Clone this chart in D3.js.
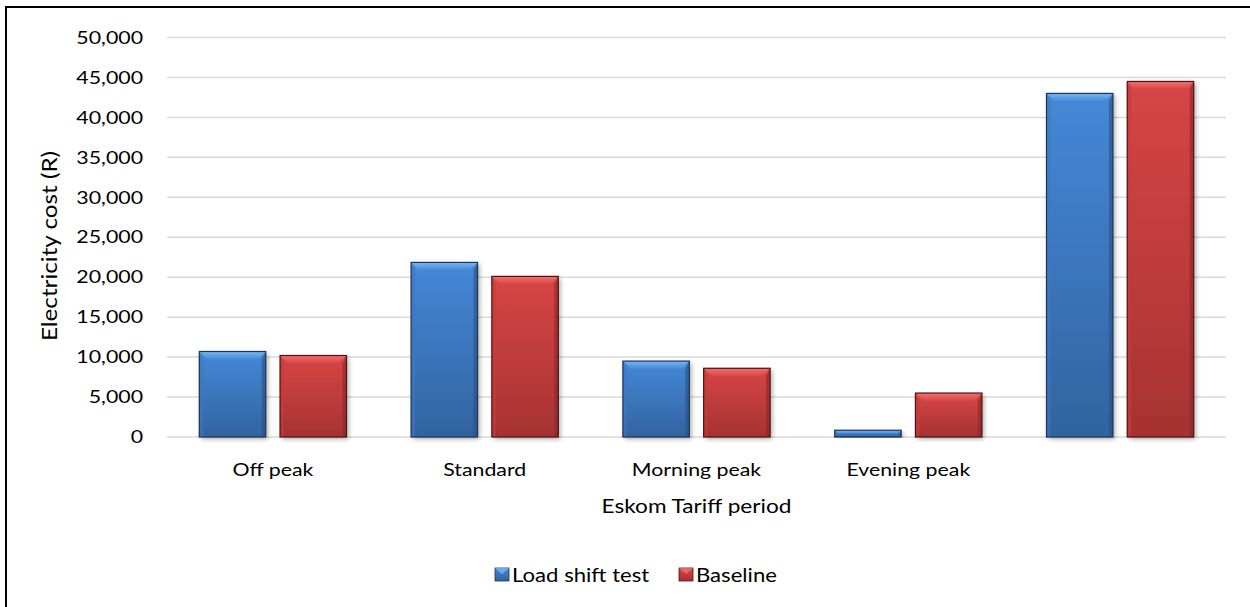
<!DOCTYPE html>
<html>
<head>
<meta charset="utf-8">
<script src="https://cdn.jsdelivr.net/npm/d3@7"></script>
<style>
  html, body { margin: 0; padding: 0; background: #fff; }
  svg text { font-family: Lato, "Open Sans", sans-serif; fill: #000; }
</style>
</head>
<body>
<svg id="chart" width="1250" height="607"></svg>
<script>
// ---- data ----
const categories = ["Off peak", "Standard", "Morning peak", "Evening peak", ""];
const seriesNames = ["Load shift test", "Baseline"];
const loadShiftTest = [10700, 21850, 9500, 850, 43000];
const baseline = [10200, 20100, 8600, 5500, 44500];
const yTicks = [0, 5000, 10000, 15000, 20000, 25000, 30000, 35000, 40000, 45000, 50000];
const yTitle = "Electricity cost (R)";
const xTitle = "Eskom Tariff period";

const svg = d3.select("#chart");

// text helper: horizontally widened glyphs (reference text is wide)
function label(parent, x, y, str, size, sx, anchor, rot) {
  return parent.append("text")
    .attr("transform", `translate(${x},${y})${rot ? ` rotate(${rot})` : ""} scale(${sx},1)`)
    .attr("font-size", size).attr("text-anchor", anchor || "start").text(str);
}

// frame
svg.append("rect").attr("x", 6).attr("y", 7).attr("width", 1260).attr("height", 620)
  .attr("fill", "none").attr("stroke", "#000").attr("stroke-width", 2);

const plot = { left: 167, right: 1226, top: 37.5, bottom: 437 };

const y = d3.scaleLinear().domain([0, 50000]).range([plot.bottom, plot.top]);
const x0 = d3.scaleBand().domain(categories.map((c, i) => i))
  .range([plot.left, plot.right]).paddingInner(0.305).paddingOuter(0.1525);
const x1 = d3.scaleBand().domain(seriesNames).range([0, x0.bandwidth()])
  .paddingInner(0.177).paddingOuter(0);

const defs = svg.append("defs");
const palettes = {
  "Load shift test": { top: "#4588d8", bottom: "#3263a0", stroke: "#1c3558", bevel: "#79b6f4", side: "#3e78bf", shadowSide: "#2a5080" },
  "Baseline": { top: "#d84545", bottom: "#a63232", stroke: "#4d1414", bevel: "#f27070", side: "#c43c3c", shadowSide: "#8a2626" }
};
Object.entries(palettes).forEach(([name, p], i) => {
  const g = defs.append("linearGradient").attr("id", "grad" + i)
    .attr("x1", 0).attr("y1", 0).attr("x2", 0).attr("y2", 1);
  g.append("stop").attr("offset", "0%").attr("stop-color", p.top);
  g.append("stop").attr("offset", "100%").attr("stop-color", p.bottom);
  const b = defs.append("linearGradient").attr("id", "bev" + i)
    .attr("x1", 0).attr("y1", 0).attr("x2", 0).attr("y2", 1);
  b.append("stop").attr("offset", "0%").attr("stop-color", p.bevel);
  b.append("stop").attr("offset", "100%").attr("stop-color", p.top);
});
const sh = defs.append("filter").attr("id", "shadow").attr("x", "-20%").attr("y", "-5%").attr("width", "150%").attr("height", "115%");
sh.append("feGaussianBlur").attr("in", "SourceAlpha").attr("stdDeviation", 2.5).attr("result", "blur");
sh.append("feOffset").attr("in", "blur").attr("dx", 2).attr("dy", 2).attr("result", "off");
sh.append("feComponentTransfer").attr("in", "off").attr("result", "off2")
  .append("feFuncA").attr("type", "linear").attr("slope", 0.35);
const m = sh.append("feMerge");
m.append("feMergeNode").attr("in", "off2");
m.append("feMergeNode").attr("in", "SourceGraphic");

// gridlines
svg.append("g").selectAll("line").data(yTicks).join("line")
  .attr("x1", plot.left).attr("x2", plot.right)
  .attr("y1", d => y(d)).attr("y2", d => y(d))
  .attr("stroke", "#d9d9d9").attr("stroke-width", 1.5);

// y tick labels
const fmt = d3.format(",");
const yl = svg.append("g");
yTicks.forEach(t => label(yl, 143, y(t) + 6.2, fmt(t), 18, 1.185, "end"));

// bars
const rows = categories.map((c, i) => ({ i, vals: [
  { s: seriesNames[0], v: loadShiftTest[i], k: 0 },
  { s: seriesNames[1], v: baseline[i], k: 1 }] }));

const groups = svg.append("g").selectAll("g").data(rows).join("g")
  .attr("transform", d => `translate(${x0(d.i)},0)`);

const bars = groups.selectAll("g.bar").data(d => d.vals).join("g").attr("class", "bar");
bars.each(function(d) {
  const g = d3.select(this);
  const p = palettes[d.s];
  const bx = x1(d.s), bw = x1.bandwidth();
  const by = y(d.v), bh = y(0) - y(d.v);
  const bev = Math.min(8, bh / 2, bw / 2);
  g.append("rect").attr("x", bx).attr("y", by).attr("width", bw).attr("height", bh)
    .attr("fill", `url(#grad${d.k})`).attr("filter", "url(#shadow)");
  g.append("path").attr("d", `M${bx},${by} L${bx + bw},${by} L${bx + bw - bev},${by + bev} L${bx + bev},${by + bev} Z`)
    .attr("fill", `url(#bev${d.k})`);
  g.append("path").attr("d", `M${bx},${by} L${bx + bev * 0.5},${by + bev} L${bx + bev * 0.5},${by + bh} L${bx},${by + bh} Z`)
    .attr("fill", p.side).attr("opacity", 0.6);
  g.append("path").attr("d", `M${bx + bw},${by} L${bx + bw - bev * 0.5},${by + bev} L${bx + bw - bev * 0.5},${by + bh} L${bx + bw},${by + bh} Z`)
    .attr("fill", p.shadowSide).attr("opacity", 0.6);
  g.append("rect").attr("x", bx).attr("y", by).attr("width", bw).attr("height", bh)
    .attr("fill", "none").attr("stroke", p.stroke).attr("stroke-width", 1.2);
});

// x labels
const xl = svg.append("g");
categories.forEach((c, i) => label(xl, x0(i) + x0.bandwidth() / 2, 476, c, 18, 1.185, "middle"));

// axis titles
label(svg, (plot.left + plot.right) / 2, 513, xTitle, 19.5, 1.16, "middle");
label(svg, 57, 246, yTitle, 21, 1.155, "middle", -90);

// legend
const legend = svg.append("g");
const legItems = [{ name: seriesNames[0], k: 0, x: 495 }, { name: seriesNames[1], k: 1, x: 679 }];
legItems.forEach(it => {
  const p = palettes[it.name];
  legend.append("rect").attr("x", it.x).attr("y", 568).attr("width", 14).attr("height", 13)
    .attr("fill", `url(#grad${it.k})`).attr("stroke", p.stroke).attr("stroke-width", 0.8);
  legend.append("path").attr("d", `M${it.x},568 L${it.x + 14},568 L${it.x + 7},574 Z`).attr("fill", p.bevel).attr("opacity", 0.8);
  label(legend, it.x + 17, 582, it.name, 19, 1.165, "start");
});
</script>
</body>
</html>
